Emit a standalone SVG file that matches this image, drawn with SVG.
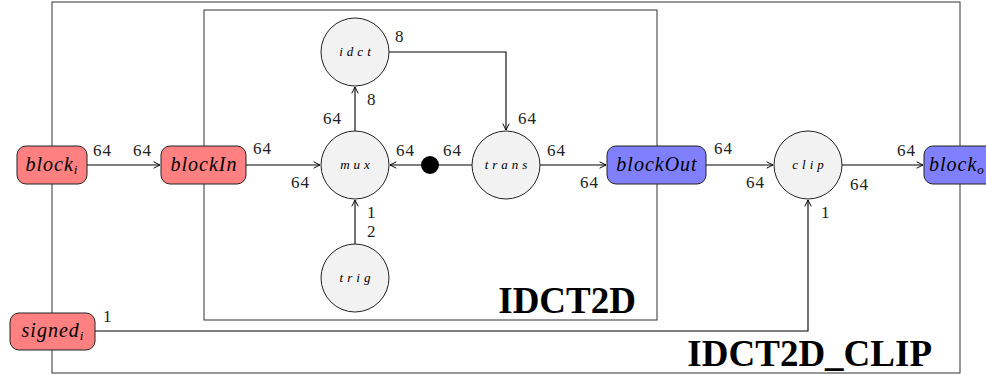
<svg xmlns="http://www.w3.org/2000/svg" width="986" height="375" viewBox="0 0 986 375">
<defs>
<marker id="ar" viewBox="0 0 10 10" refX="9" refY="5" markerWidth="8" markerHeight="8" markerUnits="userSpaceOnUse" orient="auto">
<path d="M1,1 L9,5 L1,9" fill="none" stroke="#000" stroke-width="1.2"/>
</marker>
<style>
.box{fill:#fff;stroke:#333;stroke-width:1}
.ln{fill:none;stroke:#000;stroke-width:1.1}
.red{fill:#ff8080;stroke:#222;stroke-width:1}
.blue{fill:#8080ff;stroke:#222;stroke-width:1}
.circ{fill:#f2f2f2;stroke:#222;stroke-width:1}
.nt{font-family:"Liberation Serif","Times New Roman",serif;font-style:italic;font-size:20px;letter-spacing:1px;text-anchor:middle;fill:#000}
.st{font-family:"Liberation Serif","Times New Roman",serif;font-style:italic;font-size:13px;letter-spacing:4px;text-anchor:middle;fill:#000}
.lb{font-family:"Liberation Serif","Times New Roman",serif;font-size:17px;letter-spacing:1px;fill:#222}
.title{font-family:"Liberation Serif","Times New Roman",serif;font-weight:bold;font-size:37px;text-anchor:end;fill:#000}
</style>
</defs>
<rect class="box" x="52" y="2" width="908" height="371"/>
<rect class="box" x="204" y="10" width="453" height="310"/>
<text class="title" x="636" y="313">IDCT2D</text>
<text class="title" x="932" y="366">IDCT2D_CLIP</text>
<g id="connectors">
<line class="ln" x1="87" y1="165" x2="160" y2="165" marker-end="url(#ar)"/>
<line class="ln" x1="246" y1="165" x2="320" y2="165" marker-end="url(#ar)"/>
<line class="ln" x1="472" y1="165" x2="390" y2="165" marker-end="url(#ar)"/>
<line class="ln" x1="355" y1="131" x2="355" y2="87" marker-end="url(#ar)"/>
<polyline class="ln" points="389,52 506,52 506,130" marker-end="url(#ar)"/>
<line class="ln" x1="355" y1="244" x2="355" y2="200" marker-end="url(#ar)"/>
<line class="ln" x1="540" y1="165" x2="606" y2="165" marker-end="url(#ar)"/>
<line class="ln" x1="706" y1="165" x2="773" y2="165" marker-end="url(#ar)"/>
<line class="ln" x1="842" y1="165" x2="923" y2="165" marker-end="url(#ar)"/>
<polyline class="ln" points="95,331 808,331 808,200" marker-end="url(#ar)"/>
<circle cx="430" cy="165" r="9" fill="#000"/>
<text class="lb" x="93" y="156">64</text>
<text class="lb" x="133" y="156">64</text>
<text class="lb" x="253" y="154">64</text>
<text class="lb" x="291" y="188">64</text>
<text class="lb" x="396" y="156">64</text>
<text class="lb" x="443" y="156">64</text>
<text class="lb" x="323" y="124">64</text>
<text class="lb" x="367" y="105">8</text>
<text class="lb" x="395" y="42">8</text>
<text class="lb" x="518" y="124">64</text>
<text class="lb" x="367" y="218">1</text>
<text class="lb" x="367" y="237">2</text>
<text class="lb" x="547" y="156">64</text>
<text class="lb" x="580" y="188">64</text>
<text class="lb" x="714" y="154">64</text>
<text class="lb" x="746" y="188">64</text>
<text class="lb" x="897" y="156">64</text>
<text class="lb" x="850" y="190">64</text>
<text class="lb" x="103" y="322">1</text>
<text class="lb" x="821" y="218">1</text>
</g>
<g id="block_i"><rect class="red" x="17" y="146" width="70" height="38" rx="9"/><text class="nt" x="52" y="171">block<tspan font-size="13" dy="3">i</tspan></text></g>
<g id="blockIn"><rect class="red" x="161" y="146" width="85" height="38" rx="9"/><text class="nt" x="204" y="171">blockIn</text></g>
<g id="mux"><circle class="circ" cx="355" cy="165" r="34"/><text class="st" x="357" y="169">mux</text></g>
<g id="idct"><circle class="circ" cx="355" cy="52" r="34"/><text class="st" x="357" y="56">idct</text></g>
<g id="trans"><circle class="circ" cx="506" cy="165" r="34"/><text class="st" x="508" y="169">trans</text></g>
<g id="trig"><circle class="circ" cx="355" cy="278" r="34"/><text class="st" x="357" y="282">trig</text></g>
<g id="blockOut"><rect class="blue" x="607" y="146" width="99" height="38" rx="9"/><text class="nt" x="657" y="171">blockOut</text></g>
<g id="clip"><circle class="circ" cx="808" cy="165" r="34"/><text class="st" x="810" y="169">clip</text></g>
<g id="block_o"><rect class="blue" x="924" y="146" width="72" height="38" rx="9"/><text class="nt" x="929" y="171" style="text-anchor:start">block<tspan font-size="13" dy="3">o</tspan></text></g>
<g id="signed_i"><rect class="red" x="10" y="313" width="85" height="37" rx="9"/><text class="nt" x="53" y="337">signed<tspan font-size="13" dy="3">i</tspan></text></g>
</svg>
